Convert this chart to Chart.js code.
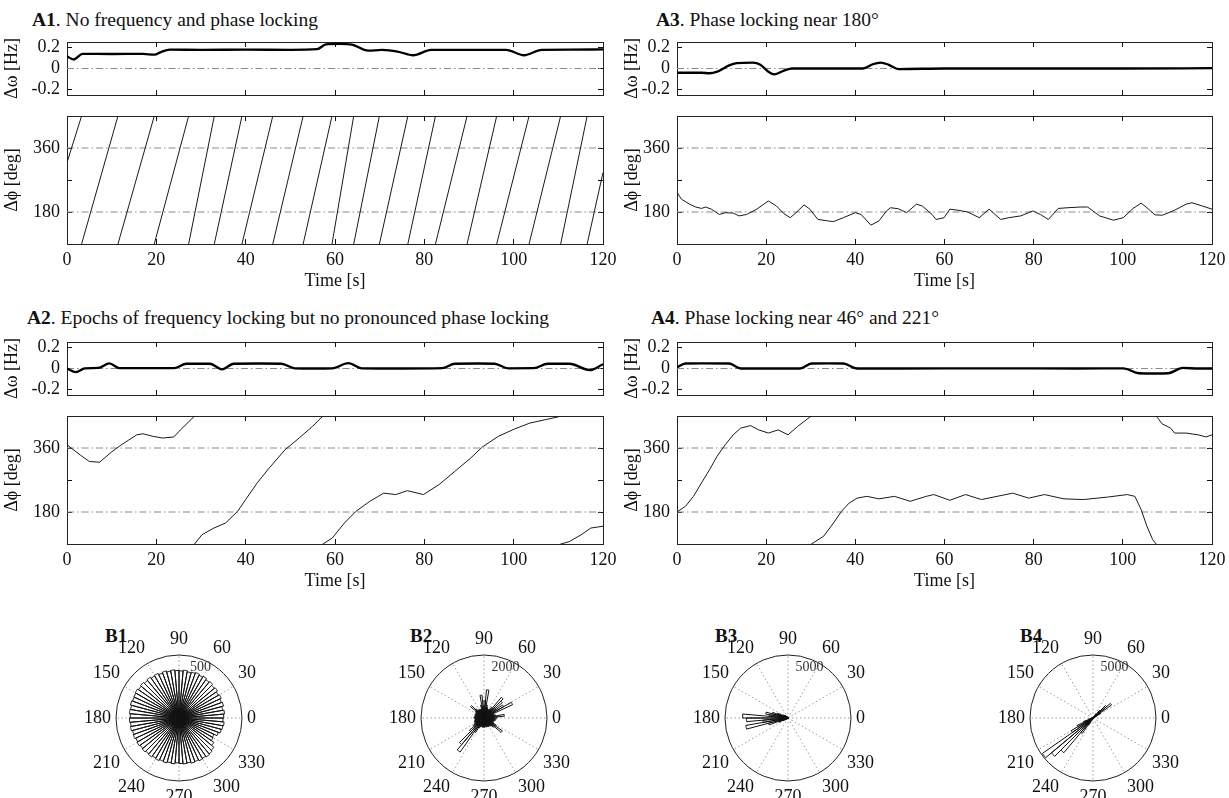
<!DOCTYPE html>
<html>
<head>
<meta charset="utf-8">
<title>Frequency and phase locking</title>
<script src="https://cdn.jsdelivr.net/npm/chart.js@4.4.1/dist/chart.umd.min.js"></script>
<style>
  html, body { margin: 0; padding: 0; background: #fff; width: 1229px; height: 798px; overflow: hidden; }
  .panel-title { position: absolute; font: 19.5px 'Liberation Serif', serif; color: #111; line-height: 22px; white-space: nowrap; }
  .rose-title { position: absolute; font: bold 19px 'Liberation Serif', serif; color: #111; line-height: 22px; }
  canvas { position: absolute; }
</style>
</head>
<body>
<div class="panel-title" style="left:32px;top:9px"><b>A1</b>. No frequency and phase locking</div>
<div class="panel-title" style="left:656px;top:9px"><b>A3</b>. Phase locking near 180°</div>
<div class="panel-title" style="left:27px;top:307px"><b>A2</b>. Epochs of frequency locking but no pronounced phase locking</div>
<div class="panel-title" style="left:651px;top:307px"><b>A4</b>. Phase locking near 46° and 221°</div>

<canvas id="a1Freq" width="621" height="68" style="left:0;top:32px"></canvas>
<canvas id="a1Phase" width="621" height="192" style="left:0;top:106px"></canvas>
<canvas id="a3Freq" width="609" height="68" style="left:620px;top:32px"></canvas>
<canvas id="a3Phase" width="609" height="192" style="left:620px;top:106px"></canvas>
<canvas id="a2Freq" width="621" height="68" style="left:0;top:332px"></canvas>
<canvas id="a2Phase" width="621" height="192" style="left:0;top:406px"></canvas>
<canvas id="a4Freq" width="609" height="68" style="left:620px;top:332px"></canvas>
<canvas id="a4Phase" width="609" height="192" style="left:620px;top:406px"></canvas>

<div class="rose-title" style="left:105px;top:625px">B1</div>
<div class="rose-title" style="left:410px;top:625px">B2</div>
<div class="rose-title" style="left:715px;top:625px">B3</div>
<div class="rose-title" style="left:1020px;top:625px">B4</div>
<canvas id="b1" width="190" height="190" style="left:79px;top:623px"></canvas>
<canvas id="b2" width="190" height="190" style="left:384px;top:623px"></canvas>
<canvas id="b3" width="190" height="190" style="left:688px;top:623px"></canvas>
<canvas id="b4" width="190" height="190" style="left:993px;top:623px"></canvas>

<script>
// frequency difference traces, time in s, value in Hz
const a1FreqTime = [0, 1.5, 3.5, 10, 17, 19.6, 21, 23, 30, 40, 50, 56, 58, 61, 63.8, 67.4, 70.5, 74, 77.5, 81.5, 90, 98.3, 102.3, 106.3, 113, 120];
const a1FreqValue = [0.115, 0.085, 0.138, 0.137, 0.138, 0.13, 0.155, 0.178, 0.176, 0.178, 0.176, 0.182, 0.228, 0.232, 0.225, 0.168, 0.175, 0.16, 0.125, 0.175, 0.176, 0.176, 0.125, 0.176, 0.178, 0.18];

const a2FreqTime = [0, 2, 4, 7, 9.5, 11.7, 18, 24, 26.7, 32, 34.7, 37.3, 43, 48, 51, 55, 59.4, 63, 66, 75, 84, 86.8, 92, 95.7, 98.8, 104.5, 107.6, 112.5, 117, 120];
const a2FreqValue = [0, -0.035, 0.002, 0.005, 0.048, 0.003, 0.003, 0.003, 0.045, 0.045, -0.008, 0.045, 0.047, 0.045, 0.002, 0, 0.002, 0.05, 0.002, 0, 0.003, 0.045, 0.047, 0.045, 0.002, 0.003, 0.045, 0.045, -0.015, 0.04];

const a3FreqTime = [0, 5.5, 7.3, 9, 11.7, 13.4, 17, 18.7, 20.5, 21.8, 24, 25.8, 35, 41.7, 43.9, 45.7, 47.5, 49.7, 60, 80, 100, 120];
const a3FreqValue = [-0.04, -0.04, -0.045, -0.03, 0.03, 0.05, 0.055, 0.035, -0.03, -0.055, -0.02, 0, 0, 0, 0.04, 0.055, 0.035, -0.005, 0, 0, 0, 0.003];

const a4FreqTime = [0, 1.9, 6, 11.7, 14.3, 20, 27.6, 30.2, 34, 37.3, 40.4, 50, 70, 90, 100.1, 103.6, 107, 110.2, 113.4, 117, 120];
const a4FreqValue = [0.01, 0.047, 0.048, 0.047, 0, 0, 0, 0.047, 0.048, 0.047, 0, 0, 0.002, 0, 0.002, -0.045, -0.047, -0.045, 0.005, 0, 0];

// phase difference, unwrapped, in deg (shown modulo 360 inside 90..450)
const a1PhaseTime = [0, 3.27, 11.41, 19.54, 27.23, 32.98, 39.17, 46.07, 52.87, 59.33, 64.19, 69.94, 76.31, 82.49, 89.57, 96.2, 103.45, 110.52, 116.45, 120];
const a1PhaseValue = [319, 450, 810, 1170, 1530, 1890, 2250, 2610, 2970, 3330, 3690, 4050, 4410, 4770, 5130, 5490, 5850, 6210, 6570, 6771];

const a2PhaseTime = [0, 3, 5, 7.3, 9.9, 11.7, 15.6, 17, 19.2, 21.4, 23.9, 25.4, 28.5, 30.2, 32.9, 35.5, 38.2, 40, 42.6, 45.3, 48.8, 51.5, 55, 57.2, 59.4, 62.1, 64.7, 67.8, 70.9, 73.6, 76.2, 79.8, 83.3, 86.8, 90.4, 93, 96.6, 100.1, 103.6, 107.2, 109.8, 112.5, 115.1, 117.3, 120];
const a2PhaseValue = [369, 340, 322, 320, 348, 365, 397, 400, 393, 388, 391, 411, 449, 476, 495, 509, 542, 575, 622, 664, 715, 743, 781, 809, 827, 869, 902, 930, 953, 949, 960, 949, 977, 1014, 1052, 1083, 1113, 1133, 1150, 1160, 1167, 1177, 1196, 1215, 1220];

const a3PhaseTime = [0, 1, 2.8, 4.2, 5.5, 6.4, 7.7, 9.5, 10.8, 12.6, 13.9, 15.6, 17.9, 20.5, 22.3, 24, 25.4, 26.7, 28.5, 29.8, 31.6, 33.8, 35.1, 37.3, 40, 41.3, 43.5, 45.3, 47, 47.9, 49.7, 51.5, 53.7, 55, 57.2, 58.1, 59.9, 61.2, 63, 65.2, 67.8, 70, 72.6, 74.4, 77.1, 79.8, 81.5, 83.3, 85.5, 87.7, 90.4, 92.1, 94.8, 97.9, 100.1, 102.3, 104.1, 105.4, 107.2, 108.9, 111.6, 114.2, 115.5, 117.8, 120];
const a3PhaseValue = [235, 216, 202, 194, 190, 194, 188, 173, 178, 177, 169, 173, 188, 211, 197, 175, 164, 178, 200, 188, 159, 155, 153, 164, 178, 173, 143, 155, 183, 192, 189, 178, 202, 197, 173, 159, 164, 188, 185, 180, 164, 188, 159, 164, 169, 183, 173, 159, 190, 192, 194, 194, 169, 157, 164, 190, 205, 192, 172, 171, 185, 202, 206, 197, 188];

const a4PhaseTime = [0, 1.9, 3.7, 5.5, 7.3, 9, 10.8, 12.6, 14.3, 16.5, 18.3, 20.5, 22.7, 24.9, 27.1, 29.8, 32.9, 35.1, 36.9, 38.6, 40.4, 42.6, 45.3, 48.8, 52.3, 55.9, 57.6, 61.2, 64.7, 68.3, 71.8, 75.3, 78.9, 82.4, 86.8, 91.2, 96.6, 101, 102.7, 104.1, 105.4, 106.7, 107.8, 108.8, 110.7, 111.6, 114.2, 116.9, 118.7, 120];
const a4PhaseValue = [180, 196, 224, 262, 299, 337, 369, 397, 416, 423, 411, 402, 411, 397, 421, 447, 472, 509, 542, 565, 579, 584, 577, 584, 570, 584, 589, 573, 589, 575, 584, 593, 579, 589, 577, 575, 582, 589, 584, 547, 500, 462, 445, 428, 416, 402, 402, 397, 391, 397];

// axis ticks and reference lines
const freqLabelledTicks = [-0.2, 0, 0.2];
const phaseLabelledTicks = [180, 360];
const freqRefLines = [0];
const phaseRefLines = [180, 360];

// rose histograms: 5 deg bins counted anticlockwise from 0 deg
const roseBins = Array.from({ length: 72 }, (_, k) => k * 5);
const angleLabels = [0, 30, 60, 90, 120, 150, 180, 210, 240, 270, 300, 330];
const b1Counts = [355, 362, 352, 366, 358, 370, 361, 374, 366, 378, 371, 382, 375, 384, 377, 372, 381, 374, 377, 383, 378, 387, 380, 391, 385, 396, 389, 399, 392, 401, 395, 392, 399, 390, 395, 387, 393, 386, 391, 382, 387, 378, 384, 376, 381, 372, 377, 368, 373, 364, 369, 360, 365, 356, 361, 366, 362, 371, 366, 375, 370, 377, 372, 362, 338, 312, 306, 332, 347, 353, 359, 349];
const b2Counts = [420, 650, 380, 300, 340, 1000, 720, 460, 760, 860, 420, 330, 290, 310, 350, 420, 900, 560, 380, 730, 420, 300, 280, 310, 290, 320, 380, 560, 340, 300, 280, 310, 270, 300, 280, 320, 300, 270, 290, 310, 330, 300, 350, 420, 600, 1100, 1320, 520, 350, 300, 280, 260, 300, 280, 300, 270, 260, 300, 280, 310, 290, 320, 340, 420, 710, 450, 330, 300, 320, 350, 380, 340];
const b3Counts = [60, 40, 50, 30, 40, 30, 40, 30, 50, 30, 40, 30, 40, 50, 40, 30, 50, 40, 60, 50, 70, 60, 80, 90, 120, 150, 200, 260, 320, 420, 500, 900, 1300, 1800, 1500, 3600, 3300, 2000, 3400, 1600, 800, 450, 250, 180, 140, 110, 90, 80, 70, 60, 50, 40, 50, 40, 30, 40, 30, 40, 30, 40, 30, 40, 30, 40, 50, 40, 50, 40, 50, 60, 50, 40];
const b4Counts = [60, 50, 70, 90, 150, 300, 700, 1800, 1400, 800, 400, 200, 120, 80, 60, 50, 40, 50, 40, 30, 40, 30, 40, 30, 40, 50, 40, 30, 40, 50, 40, 50, 40, 60, 50, 70, 90, 120, 200, 400, 800, 1400, 2000, 4900, 4300, 3600, 1500, 600, 250, 120, 80, 60, 50, 40, 30, 40, 30, 40, 30, 40, 30, 40, 30, 40, 30, 40, 50, 40, 50, 60, 50, 60];

Chart.defaults.font.family = "'Liberation Serif', 'Times New Roman', serif";
Chart.defaults.font.size = 18;
Chart.defaults.color = '#111';
Chart.defaults.animation = false;

const PHASE_MIN = 90;
const PHASE_MAX = 450;

function pointsOf(times, values, shift) {
    return times.map((t, i) => ({ x: t, y: values[i] - shift }));
}

// axes sizes are pinned so the plot boxes line up like the original figure
function fixSize(size) {
    return scale => {
        if (scale.isHorizontal()) {
            scale.height = size;
        } else {
            scale.width = size;
        }
        scale.paddingLeft = 0;
        scale.paddingRight = 0;
        scale.paddingTop = 0;
        scale.paddingBottom = 0;
    };
}

const inwardTicks = { drawOnChartArea: false, drawTicks: true, tickLength: -5, tickColor: '#111', tickWidth: 1 };
const frame = { display: true, color: '#222', width: 1 };

function boxScales(o) {
    const noLabel = () => '';
    return {
        x: {
            type: 'linear', position: 'bottom', min: 0, max: 120,
            ticks: { stepSize: 20, padding: 10, autoSkip: false, maxRotation: 0,
                     callback: v => o.timeAxis ? String(v) : '' },
            grid: inwardTicks, border: frame,
            title: { display: o.timeAxis, text: 'Time [s]', padding: { top: 0, bottom: 2 } },
            afterFit: fixSize(o.timeAxis ? 50 : 0)
        },
        xTop: {
            type: 'linear', axis: 'x', position: 'top', min: 0, max: 120,
            ticks: { stepSize: 20, autoSkip: false, callback: noLabel },
            grid: inwardTicks, border: frame, afterFit: fixSize(0)
        },
        y: {
            type: 'linear', position: 'left', min: o.min, max: o.max,
            ticks: { stepSize: o.step, includeBounds: false, padding: 12, autoSkip: false,
                     callback: v => o.labelled.includes(v) ? o.format(v) : '' },
            grid: inwardTicks, border: frame,
            title: { display: true, text: o.title, padding: { top: 1, bottom: 0 } },
            afterFit: fixSize(o.axisWidth)
        },
        yRight: {
            type: 'linear', axis: 'y', position: 'right', min: o.min, max: o.max,
            ticks: { stepSize: o.step, includeBounds: false, autoSkip: false, callback: noLabel },
            grid: inwardTicks, border: frame, afterFit: fixSize(0)
        }
    };
}

function refLine(y) {
    return {
        data: [{ x: 0, y: y }, { x: 120, y: y }],
        borderColor: '#8a8a8a', borderWidth: 1, borderDash: [7, 3, 1.5, 3],
        pointRadius: 0, order: 2
    };
}

function freqChart(id, times, values, axisWidth, padRight) {
    const datasets = [{
        data: pointsOf(times, values, 0),
        borderColor: '#000', borderWidth: 2.3, pointRadius: 0,
        cubicInterpolationMode: 'monotone', order: 1
    }].concat(freqRefLines.map(refLine));

    return new Chart(document.getElementById(id), {
        type: 'line',
        data: { datasets: datasets },
        options: {
            responsive: false, events: [],
            layout: { padding: { left: 0, top: 10, right: padRight, bottom: 5 } },
            plugins: { legend: { display: false }, tooltip: { enabled: false } },
            scales: boxScales({
                timeAxis: false, min: -0.25, max: 0.25, step: 0.2,
                labelled: freqLabelledTicks,
                format: v => (v === 0 ? '0' : v.toFixed(1)),
                title: 'Δω [Hz]', axisWidth: axisWidth
            })
        }
    });
}

function phaseChart(id, times, unwrapped, axisWidth, padRight) {
    // one copy per 360 deg turn, the plot box clips each to 90..450
    const datasets = [];
    const top = Math.max(...unwrapped);
    for (let shift = 0; shift <= top - PHASE_MIN; shift += 360) {
        datasets.push({
            data: pointsOf(times, unwrapped, shift),
            borderColor: '#1a1a1a', borderWidth: 1, pointRadius: 0,
            tension: 0, order: 1
        });
    }
    phaseRefLines.forEach(y => datasets.push(refLine(y)));

    return new Chart(document.getElementById(id), {
        type: 'line',
        data: { datasets: datasets },
        options: {
            responsive: false, events: [],
            layout: { padding: { left: 0, top: 10, right: padRight, bottom: 4 } },
            plugins: { legend: { display: false }, tooltip: { enabled: false } },
            scales: boxScales({
                timeAxis: true, min: PHASE_MIN, max: PHASE_MAX, step: 90,
                labelled: phaseLabelledTicks,
                format: v => String(v),
                title: 'Δϕ [deg]', axisWidth: axisWidth
            })
        }
    });
}

freqChart('a1Freq', a1FreqTime, a1FreqValue, 67, 18);
phaseChart('a1Phase', a1PhaseTime, a1PhaseValue, 67, 18);
freqChart('a2Freq', a2FreqTime, a2FreqValue, 67, 18);
phaseChart('a2Phase', a2PhaseTime, a2PhaseValue, 67, 18);
freqChart('a3Freq', a3FreqTime, a3FreqValue, 57, 17);
phaseChart('a3Phase', a3PhaseTime, a3PhaseValue, 57, 17);
freqChart('a4Freq', a4FreqTime, a4FreqValue, 57, 17);
phaseChart('a4Phase', a4PhaseTime, a4PhaseValue, 57, 17);

// count label of the outer ring, put inside the circle like the original
const ringLabel = {
    id: 'ringLabel',
    afterDraw(chart) {
        const r = chart.scales.r;
        const a = 67 * Math.PI / 180;
        const ctx = chart.ctx;
        ctx.save();
        ctx.font = "14px 'Liberation Serif'";
        ctx.fillStyle = '#333';
        ctx.textAlign = 'center';
        ctx.textBaseline = 'middle';
        ctx.fillText(String(r.max),
            r.xCenter + 0.87 * r.drawingArea * Math.cos(a),
            r.yCenter - 0.87 * r.drawingArea * Math.sin(a));
        ctx.restore();
    }
};

function roseChart(id, counts, rMax) {
    // chart.js runs clockwise from the top; bin k is 5k..5k+5 deg anticlockwise from east
    const order = roseBins.map((_, j) => (17 - j + 72) % 72);
    return new Chart(document.getElementById(id), {
        type: 'polarArea',
        data: {
            labels: order.map(k => (roseBins[k] + 5) % 360),
            datasets: [{
                data: order.map(k => counts[k]),
                backgroundColor: 'rgba(255,255,255,0)',
                borderColor: '#111',
                borderWidth: 1
            }]
        },
        options: {
            responsive: false, events: [],
            layout: { padding: 0 },
            plugins: { legend: { display: false }, tooltip: { enabled: false } },
            scales: {
                r: {
                    min: 0, max: rMax, startAngle: 0,
                    ticks: { display: false, stepSize: rMax },
                    grid: { circular: true, color: '#222', lineWidth: 1 },
                    angleLines: {
                        display: true, color: '#9a9a9a', borderDash: [1.5, 2.5],
                        lineWidth: ctx => (ctx.index % 6 === 0 ? 1 : 0)
                    },
                    pointLabels: {
                        display: true, padding: 5, color: '#111', font: { size: 18 },
                        callback: label => (angleLabels.includes(label) ? String(label) : '')
                    }
                }
            }
        },
        plugins: [ringLabel]
    });
}

roseChart('b1', b1Counts, 500);
roseChart('b2', b2Counts, 2000);
roseChart('b3', b3Counts, 5000);
roseChart('b4', b4Counts, 5000);
</script>
</body>
</html>
